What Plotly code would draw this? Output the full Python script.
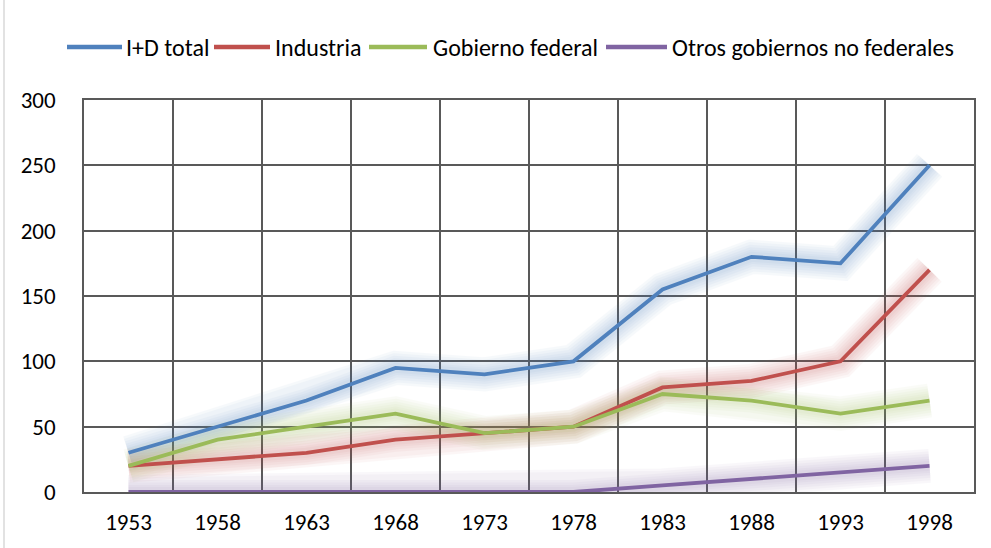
import plotly.graph_objects as go

years = ["1953", "1958", "1963", "1968", "1973", "1978", "1983", "1988", "1993", "1998"]
total = [30, 50, 70, 95, 90, 100, 155, 180, 175, 250]
industria = [20, 25, 30, 40, 45, 50, 80, 85, 100, 170]
gobierno = [20, 40, 50, 60, 45, 50, 75, 70, 60, 70]
otros = [0, 0, 0, 0, 0, 0, 5, 10, 15, 20]

names = ["I+D total", "Industria", "Gobierno federal", "Otros gobiernos no federales"]
values = [total, industria, gobierno, otros]
colors = ["#4F81BD", "#C0504D", "#9BBB59", "#8064A2"]

FONT = "Carlito, Lato, Liberation Sans"
W, H = 991, 548
L, R, T, B = 84, 17, 100, 56
PW, PH = W - L - R, H - T - B

def px(x):
    return (x - L) / PW

def py(y):
    return 1 - (y - T) / PH

fig = go.Figure()

# soft glow under the lines
for vals, col in zip(values, colors):
    for w in [34, 29, 24, 19, 14, 10]:
        fig.add_trace(go.Scatter(
            x=years, y=vals, mode="lines", showlegend=False, hoverinfo="skip",
            line=dict(color=col, width=w), opacity=0.045,
        ))

for name, vals, col in zip(names, values, colors):
    fig.add_trace(go.Scatter(
        x=years, y=vals, mode="lines", name=name, showlegend=False,
        line=dict(color=col, width=3.8),
    ))

fig.update_layout(
    width=W, height=H,
    paper_bgcolor="white", plot_bgcolor="white",
    margin=dict(l=L, r=R, t=T, b=B),
    font=dict(family=FONT, size=24, color="black"),
    showlegend=False,
)
fig.update_xaxes(
    type="category", range=[-0.5, 9.5], tickson="boundaries",
    showgrid=True, gridcolor="#595959", gridwidth=1.5,
    showline=True, linecolor="#595959", linewidth=1.5, mirror=True,
    ticks="", ticklabelstandoff=9, tickfont=dict(size=23, color="black"),
    automargin=False,
)
fig.update_yaxes(
    range=[0, 300], dtick=50,
    showgrid=True, gridcolor="#595959", gridwidth=1.5,
    showline=True, linecolor="#595959", linewidth=1.5, mirror=True,
    zeroline=False, ticks="", ticklabelstandoff=22,
    tickfont=dict(size=23, color="black"), automargin=False,
)

# custom legend (line swatch + label)
leg_y = 47
swatches = [(67, 122, 124), (214, 270, 273), (369, 427, 431), (606, 667, 670)]
for (x0, x1, xt), name, col in zip(swatches, names, colors):
    fig.add_shape(type="line", xref="paper", yref="paper",
                  x0=px(x0), x1=px(x1), y0=py(leg_y), y1=py(leg_y),
                  line=dict(color=col, width=4.5))
    fig.add_annotation(xref="paper", yref="paper", x=px(xt), y=py(leg_y),
                       text=name, showarrow=False, xanchor="left", yanchor="middle",
                       font=dict(family=FONT, size=24, color="black"))

# light outer chart border on the left
fig.add_shape(type="line", xref="paper", yref="paper",
              x0=px(4), x1=px(4), y0=py(H), y1=py(0),
              line=dict(color="#CFCFCF", width=1.2))

fig.write_html("out.html", config={"displayModeBar": False},
               post_script="document.body.style.margin='0px';document.body.style.overflow='hidden';")
